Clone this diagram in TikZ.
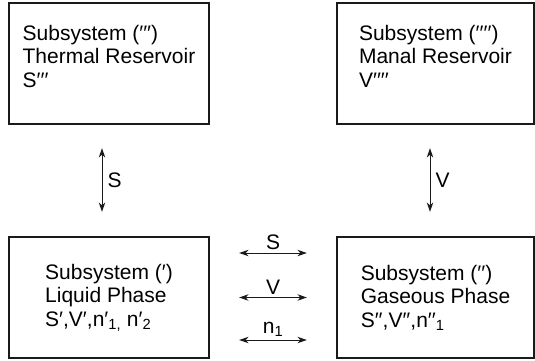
\documentclass[tikz,border=0pt]{standalone}
\usepackage{fontspec}
\setmainfont{Liberation Sans}
\usetikzlibrary{arrows.meta}
\begin{document}
\begin{tikzpicture}[x=1pt, y=1pt,
    subsystem/.style={draw=borderColour, line width=2.3pt, minimum height=121pt,
        align=left, font=\fontsize{21}{23.5}\selectfont},
    exchange/.style={{Stealth[length=9.5pt,width=6.5pt]}-{Stealth[length=9.5pt,width=6.5pt]},
        line width=1pt, draw=borderColour},
    flowlabel/.style={font=\fontsize{21}{23}\selectfont, inner sep=2pt}]

    \definecolor{borderColour}{HTML}{1A1A1A}

    % Fix page size
    \useasboundingbox (0,0) rectangle (535,360);

    % Reservoirs
    \node[subsystem, minimum width=200pt] (thermal) at (109,296.5)
        {Subsystem (′′′)\\Thermal Reservoir\\S′′′\\[-9pt]\mbox{}};
    \node[subsystem, minimum width=197pt] (manal) at (435.5,296.5)
        {Subsystem (′′′′)\\Manal Reservoir\\V′′′′\\[-9pt]\mbox{}};

    % Phases
    \node[subsystem, minimum width=200pt] (liquid) at (109,62.5)
        {Subsystem (′)\\Liquid Phase\\S′,V′,n′\textsubscript{1,} n′\textsubscript{2}};
    \node[subsystem, minimum width=197pt] (gaseous) at (435.5,62.5)
        {Subsystem (′′)\\Gaseous Phase\\S′′,V′′,n′′\textsubscript{1}};

    % Exchange with reservoirs
    \draw[exchange, shorten <=23pt, shorten >=24pt] ([xshift=-7pt]thermal.south) -- ([xshift=-7pt]liquid.north)
        node[flowlabel, midway, right=3pt] {S};
    \draw[exchange, shorten <=23pt, shorten >=24pt] ([xshift=-5.5pt]manal.south) -- ([xshift=-5.5pt]gaseous.north)
        node[flowlabel, midway, right=3pt] {V};

    % Exchange between phases
    \draw[exchange, shorten <=29pt, shorten >=29pt] ([yshift=44.5pt]liquid.east) -- ([yshift=44.5pt]gaseous.west)
        node[flowlabel, midway, above=1pt] {S};
    \draw[exchange, shorten <=29pt, shorten >=29pt] (liquid.east) -- (gaseous.west)
        node[flowlabel, midway, above=1pt] {V};
    \draw[exchange, shorten <=29pt, shorten >=29pt] ([yshift=-42.5pt]liquid.east) -- ([yshift=-42.5pt]gaseous.west)
        node[flowlabel, midway, above=1pt] {n\textsubscript{1}};

\end{tikzpicture}
\end{document}
